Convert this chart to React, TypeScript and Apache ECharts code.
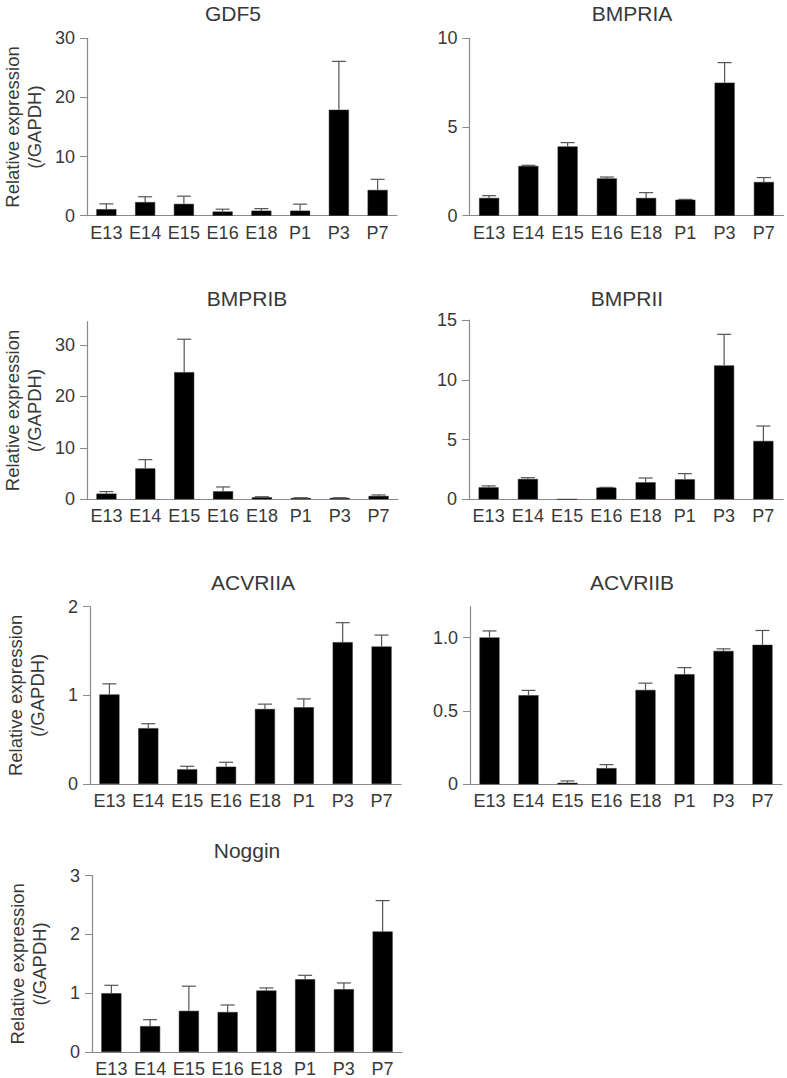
import React, { useEffect, useRef } from "react";
import * as echarts from "echarts";

const categories = ["E13", "E14", "E15", "E16", "E18", "P1", "P3", "P7"];

const gdf5Mean = [1.1, 2.3, 2.0, 0.7, 0.85, 0.85, 17.9, 4.35];
const gdf5Err = [0.9, 0.9, 1.3, 0.4, 0.35, 1.1, 8.2, 1.8];

const bmpriaMean = [1.0, 2.8, 3.9, 2.1, 1.0, 0.9, 7.5, 1.9];
const bmpriaErr = [0.13, 0.04, 0.22, 0.08, 0.3, 0.02, 1.13, 0.25];

const bmpribMean = [1.1, 6.0, 24.7, 1.55, 0.4, 0.25, 0.25, 0.65];
const bmpribErr = [0.4, 1.7, 6.4, 0.85, 0.1, 0.05, 0.05, 0.2];

const bmpriiMean = [1.0, 1.7, 0, 0.98, 1.42, 1.67, 11.2, 4.88];
const bmpriiErr = [0.12, 0.11, 0, 0.02, 0.36, 0.48, 2.6, 1.25];

const acvriiaMean = [1.01, 0.63, 0.165, 0.195, 0.846, 0.865, 1.6, 1.55];
const acvriiaErr = [0.12, 0.05, 0.035, 0.05, 0.055, 0.095, 0.22, 0.13];

const acvriibMean = [1.0, 0.607, 0.01, 0.11, 0.643, 0.75, 0.909, 0.95];
const acvriibErr = [0.045, 0.033, 0.013, 0.024, 0.046, 0.045, 0.014, 0.098];

const nogginMean = [1.0, 0.44, 0.7, 0.68, 1.045, 1.237, 1.068, 2.05];
const nogginErr = [0.135, 0.11, 0.42, 0.12, 0.045, 0.068, 0.107, 0.526];

const gdf5Ticks = [0, 10, 20, 30];
const bmpriaTicks = [0, 5, 10];
const bmpribTicks = [0, 10, 20, 30];
const bmpriiTicks = [0, 5, 10, 15];
const acvriiaTicks = [0, 1, 2];
const acvriibTicks = [0, 0.5, 1.0];
const nogginTicks = [0, 1, 2, 3];

const yAxisName = "Relative expression\n(/GAPDH)";

const panels = [
  { title: "GDF5", mean: gdf5Mean, err: gdf5Err, ticks: gdf5Ticks, max: 30, grid: { left: 84, top: 38.3, width: 313, height: 177.4 }, titlePos: [233, 13], yName: true },
  { title: "BMPRIA", mean: bmpriaMean, err: bmpriaErr, ticks: bmpriaTicks, max: 10, grid: { left: 469.5, top: 38.3, width: 314, height: 177.4 }, titlePos: [632, 13], yName: false },
  { title: "BMPRIB", mean: bmpribMean, err: bmpribErr, ticks: bmpribTicks, max: 34.5, grid: { left: 85, top: 321.7, width: 313, height: 177.6 }, titlePos: [247, 298], yName: true },
  { title: "BMPRII", mean: bmpriiMean, err: bmpriiErr, ticks: bmpriiTicks, max: 15, grid: { left: 469, top: 320, width: 314, height: 179.3 }, titlePos: [627, 298], yName: false },
  { title: "ACVRIIA", mean: acvriiaMean, err: acvriiaErr, ticks: acvriiaTicks, max: 2, grid: { left: 90, top: 606.7, width: 311, height: 177.3 }, titlePos: [253, 582], yName: true },
  { title: "ACVRIIB", mean: acvriibMean, err: acvriibErr, ticks: acvriibTicks, max: 1.21, grid: { left: 470, top: 606.7, width: 312, height: 177.6 }, titlePos: [632, 582], yName: false },
  { title: "Noggin", mean: nogginMean, err: nogginErr, ticks: nogginTicks, max: 3, grid: { left: 92, top: 875.7, width: 310, height: 177 }, titlePos: [247, 850], yName: true },
];

const FONT = "'Liberation Sans', Arial, sans-serif";
const TEXT_COLOR = "#383838";
const AXIS_COLOR = "#8a8a8a";

export default function App() {
  const ref = useRef<HTMLDivElement>(null);

  useEffect(() => {
    if (!ref.current) return;
    const chart = echarts.init(ref.current, null, { renderer: "svg" });

    const grids = panels.map((p) => ({ ...p.grid, containLabel: false }));
    const xAxes = panels.map((p, i) => ({
      type: "category",
      gridIndex: i,
      data: categories,
      axisLine: { show: true, lineStyle: { color: AXIS_COLOR, width: 1.2 } },
      axisTick: { show: false },
      axisLabel: { interval: 0, color: TEXT_COLOR, fontSize: 18, fontFamily: FONT, margin: 8 },
      splitLine: { show: false },
    }));
    const yAxes = panels.map((p, i) => ({
      type: "value",
      gridIndex: i,
      min: 0,
      max: p.max,
      name: p.yName ? yAxisName : "",
      nameLocation: "middle",
      nameRotate: 90,
      nameGap: 42,
      nameTextStyle: { color: TEXT_COLOR, fontSize: 18.5, fontFamily: FONT, lineHeight: 22 },
      axisLine: { show: true, lineStyle: { color: AXIS_COLOR, width: 1.2 } },
      axisTick: { show: true, length: 7, lineStyle: { color: AXIS_COLOR }, customValues: p.ticks },
      axisLabel: {
        color: TEXT_COLOR,
        fontSize: 18,
        fontFamily: FONT,
        margin: 12,
        customValues: p.ticks,
        formatter: (v: number) => (v === 0 ? "0" : p.max < 1.5 ? v.toFixed(1) : String(v)),
      },
      splitLine: { show: false },
    }));

    const series: any[] = [];
    panels.forEach((p, i) => {
      series.push({
        type: "bar",
        xAxisIndex: i,
        yAxisIndex: i,
        data: p.mean,
        barWidth: 20,
        itemStyle: { color: "#000", borderColor: "#222", borderWidth: 0.5 },
        z: 2,
      });
      series.push({
        type: "custom",
        xAxisIndex: i,
        yAxisIndex: i,
        z: 3,
        data: p.mean.map((m, k) => [k, m, m + p.err[k]]),
        renderItem: (params: any, api: any) => {
          const idx = api.value(0);
          const m = api.value(1);
          const t = api.value(2);
          if (t - m <= 0) return null;
          const p0 = api.coord([idx, m]);
          const p1 = api.coord([idx, t]);
          const half = 7;
          const style = { stroke: "#555", lineWidth: 1.2 };
          return {
            type: "group",
            children: [
              { type: "line", shape: { x1: p0[0], y1: p0[1], x2: p1[0], y2: p1[1] }, style },
              { type: "line", shape: { x1: p1[0] - half, y1: p1[1], x2: p1[0] + half, y2: p1[1] }, style },
            ],
          };
        },
      });
    });

    const graphic = panels.map((p) => ({
      type: "text",
      x: p.titlePos[0],
      y: p.titlePos[1],
      style: {
        text: p.title,
        font: `21px ${FONT}`,
        fill: TEXT_COLOR,
        textAlign: "center",
        textVerticalAlign: "middle",
      },
    }));

    chart.setOption({
      animation: false,
      backgroundColor: "#fff",
      grid: grids,
      xAxis: xAxes,
      yAxis: yAxes,
      series,
      graphic,
    });

    return () => chart.dispose();
  }, []);

  return (
    <div
      ref={ref}
      style={{ position: "absolute", left: 0, top: 0, width: 787, height: 1078 }}
    />
  );
}
